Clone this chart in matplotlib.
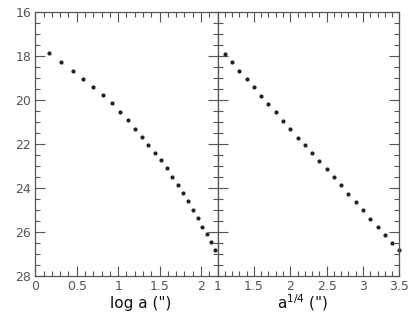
import numpy as np
import matplotlib
matplotlib.use("Agg")
import matplotlib.pyplot as plt
from matplotlib.ticker import MultipleLocator

# surface brightness profile
log_a = [0.165, 0.313, 0.454, 0.578, 0.699, 0.812, 0.920, 1.017, 1.113, 1.201,
         1.286, 1.366, 1.442, 1.520, 1.590, 1.655, 1.723, 1.783, 1.843, 1.904,
         1.964, 2.017, 2.069, 2.120, 2.170]
mu_left = [17.89, 18.27, 18.68, 19.06, 19.43, 19.80, 20.16, 20.54, 20.93, 21.32,
           21.69, 22.04, 22.40, 22.75, 23.12, 23.49, 23.85, 24.24, 24.62, 25.00,
           25.39, 25.76, 26.12, 26.47, 26.82]

a_quarter = [1.1, 1.2, 1.3, 1.4, 1.5, 1.6, 1.7, 1.8, 1.9, 2.0,
             2.1, 2.2, 2.3, 2.4, 2.5, 2.6, 2.7, 2.8, 2.9, 3.0,
             3.1, 3.2, 3.3, 3.4, 3.5]
mu_right = [17.91, 18.30, 18.71, 19.07, 19.43, 19.81, 20.19, 20.57, 20.96, 21.34,
            21.72, 22.06, 22.42, 22.78, 23.15, 23.51, 23.88, 24.26, 24.63, 25.03,
            25.41, 25.77, 26.14, 26.49, 26.82]

xlabels = ['log a (")', 'a$^{1/4}$ (")']

fig = plt.figure(figsize=(4.17, 3.16), dpi=100)
ax1 = fig.add_axes([0.0847, 0.127, 0.437, 0.836])
ax2 = fig.add_axes([0.5217, 0.127, 0.436, 0.836], sharey=ax1)

spine_col = "#555555"
for ax in (ax1, ax2):
    for s in ax.spines.values():
        s.set_color(spine_col)
        s.set_linewidth(0.9)
    ax.tick_params(which="both", direction="in", top=True, right=True,
                   color=spine_col, width=0.8, labelsize=9, labelcolor="#555555", pad=3)
    ax.tick_params(which="major", length=7)
    ax.tick_params(which="minor", length=3.5)
    ax.xaxis.set_major_locator(MultipleLocator(0.5))
    ax.xaxis.set_minor_locator(MultipleLocator(0.1))
    ax.yaxis.set_major_locator(MultipleLocator(2))
    ax.yaxis.set_minor_locator(MultipleLocator(0.5))

ax1.plot(log_a, mu_left, "o", color="#222222", markersize=2.0, clip_on=False)
ax2.plot(a_quarter, mu_right, "o", color="#222222", markersize=2.0, clip_on=False)

ax1.set_xlim(0, 2.2)
ax2.set_xlim(1, 3.5)
ax1.set_ylim(28, 16)
ax1.set_xticks([0, 0.5, 1, 1.5, 2])
ax1.set_xticklabels(["0", "0.5", "1", "1.5", "2"])
ax2.set_xticks([1, 1.5, 2, 2.5, 3, 3.5])
ax2.set_xticklabels(["1", "1.5", "2", "2.5", "3", "3.5"])
ax2.tick_params(labelleft=False)

ax1.set_xlabel(xlabels[0], fontsize=11, color="#111111", va="baseline")
ax2.set_xlabel(xlabels[1], fontsize=11, color="#111111", va="baseline")
ax1.xaxis.set_label_coords(0.58, -0.123)
ax2.xaxis.set_label_coords(0.466, -0.123)

fig.savefig("out.png", dpi=100)
